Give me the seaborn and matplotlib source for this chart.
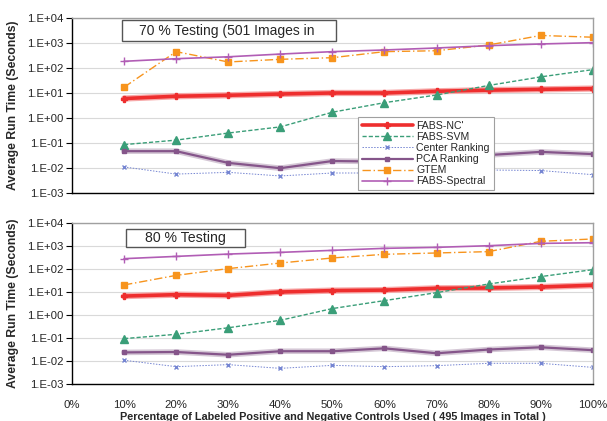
import numpy as np
import pandas as pd
import matplotlib
matplotlib.use("Agg")
import matplotlib.pyplot as plt
from matplotlib.patches import Rectangle
import seaborn as sns

pct = [10, 20, 30, 40, 50, 60, 70, 80, 90, 100]
series_names = ["FABS-NC'", "FABS-SVM", "Center Ranking", "PCA Ranking", "GTEM", "FABS-Spectral"]

# 70 % testing panel
top_nc = [6.0, 7.4, 8.1, 9.1, 10.0, 10.0, 11.7, 13.0, 14.0, 15.0]
top_svm = [0.086, 0.13, 0.25, 0.44, 1.7, 4.1, 8.3, 20, 44, 86]
top_center = [0.011, 0.0057, 0.0067, 0.0048, 0.0063, 0.0063, 0.0065, 0.0083, 0.0079, 0.0054]
top_pca = [0.047, 0.047, 0.016, 0.0098, 0.019, 0.018, 0.024, 0.033, 0.044, 0.036]
top_gtem = [17, 450, 174, 222, 258, 450, 490, 830, 2000, 1700]
top_spec = [185, 235, 280, 360, 450, 525, 630, 780, 910, 1030]

# 80 % testing panel
bot_nc = [6.6, 7.6, 7.1, 9.9, 11.4, 12.0, 14.3, 14.8, 16.3, 19.4]
bot_svm = [0.095, 0.146, 0.28, 0.59, 1.9, 4.2, 9.3, 22, 46, 92]
bot_center = [0.011, 0.0058, 0.0071, 0.0049, 0.0066, 0.0058, 0.0064, 0.0081, 0.0081, 0.0054]
bot_pca = [0.024, 0.025, 0.019, 0.027, 0.027, 0.036, 0.022, 0.032, 0.040, 0.030]
bot_gtem = [20, 52, 102, 178, 295, 425, 485, 555, 1550, 1960]
bot_spec = [275, 345, 435, 515, 630, 770, 850, 1000, 1260, 1350]

x_ticks = [0, 10, 20, 30, 40, 50, 60, 70, 80, 90, 100]
x_ticklabels = ["0%", "10%", "20%", "30%", "40%", "50%", "60%", "70%", "80%", "90%", "100%"]
y_ticks = [1e-3, 1e-2, 1e-1, 1e0, 1e1, 1e2, 1e3, 1e4]
y_ticklabels = ["1.E-03", "1.E-02", "1.E-01", "1.E+00", "1.E+01", "1.E+02", "1.E+03", "1.E+04"]

styles = {
    "FABS-NC'": dict(color="#EE2E2E", lw=2.6, ls="-", marker="P", ms=4.5, halo="#F7A8A8", hw=4.5),
    "FABS-SVM": dict(color="#3A9E78", lw=1.0, ls=(0, (3, 1.5)), marker="^", ms=6, halo=None, hw=0),
    "Center Ranking": dict(color="#7585D2", lw=0.7, ls=(0, (1.5, 1.5)), marker="x", ms=3, halo=None, hw=0),
    "PCA Ranking": dict(color="#85558A", lw=1.6, ls="-", marker="s", ms=2.5, halo="#D5C8D6", hw=4.0),
    "GTEM": dict(color="#F7941D", lw=1.0, ls=(0, (6, 2, 1, 2)), marker="s", ms=4, halo=None, hw=0),
    "FABS-Spectral": dict(color="#B15DB5", lw=1.2, ls="-", marker="+", ms=6, halo=None, hw=0),
}

sns.set_theme(style="white")
plt.rcParams["font.family"] = ["Liberation Sans", "DejaVu Sans"]

fig = plt.figure(figsize=(6.07, 4.21), dpi=100)
ax_top = fig.add_axes([0.1186, 0.5416, 0.858, 0.4157])
ax_bot = fig.add_axes([0.1186, 0.0872, 0.858, 0.384])

def draw(ax, data):
    for name in series_names:
        df = pd.DataFrame({"pct": pct, "val": data[name]})
        st = styles[name]
        if st["halo"]:
            sns.lineplot(data=df, x="pct", y="val", ax=ax, color=st["halo"], lw=st["hw"],
                         legend=False)
    for name in series_names:
        df = pd.DataFrame({"pct": pct, "val": data[name]})
        st = styles[name]
        sns.lineplot(data=df, x="pct", y="val", ax=ax, color=st["color"], lw=st["lw"],
                     linestyle=st["ls"], marker=st["marker"], markersize=st["ms"],
                     markeredgecolor=st["color"], markeredgewidth=1.0, label=name,
                     legend=False)
    ax.set_yscale("log")
    ax.set_ylim(1e-3, 1e4)
    ax.set_xlim(0, 100)
    ax.set_yticks(y_ticks)
    ax.set_yticklabels(y_ticklabels, fontsize=8.2)
    ax.minorticks_off()
    ax.yaxis.grid(True, color="#D9D9D9", lw=0.8)
    ax.set_axisbelow(True)
    ax.set_ylabel("Average Run Time (Seconds)", fontsize=8.8, fontweight="bold", labelpad=6)
    ax.set_xlabel("")
    for s in ["top", "right"]:
        ax.spines[s].set_color("#A0A0A0")
        ax.spines[s].set_linewidth(1.0)
    for s in ["left", "bottom"]:
        ax.spines[s].set_color("black")
        ax.spines[s].set_linewidth(1.0)
    ax.tick_params(axis="y", left=True, length=4, width=0.8, color="black", pad=2)

top_data = dict(zip(series_names, [top_nc, top_svm, top_center, top_pca, top_gtem, top_spec]))
bot_data = dict(zip(series_names, [bot_nc, bot_svm, bot_center, bot_pca, bot_gtem, bot_spec]))
draw(ax_top, top_data)
draw(ax_bot, bot_data)

ax_top.set_xticks(x_ticks)
ax_top.set_xticklabels([])
ax_top.tick_params(axis="x", bottom=False)
ax_bot.set_xticks(x_ticks)
ax_bot.set_xticklabels(x_ticklabels, fontsize=8.2)
ax_bot.tick_params(axis="x", bottom=False, pad=5)
ax_bot.set_xlabel("Percentage of Labeled Positive and Negative Controls Used ( 495 Images in Total )",
                  fontsize=7.8, fontweight="bold", labelpad=1.5)

# title boxes
ax_top.add_patch(Rectangle((0.096, 0.869), 0.411, 0.12, transform=ax_top.transAxes,
                           fc="white", ec="#555555", lw=1.0, zorder=5))
ax_top.text(0.298, 0.926, "70 % Testing (501 Images in", transform=ax_top.transAxes,
            fontsize=10, va="center", ha="center", zorder=6)
ax_bot.add_patch(Rectangle((0.104, 0.850), 0.228, 0.111, transform=ax_bot.transAxes,
                           fc="white", ec="#555555", lw=1.0, zorder=5))
ax_bot.text(0.218, 0.902, "80 % Testing", transform=ax_bot.transAxes,
            fontsize=10.2, va="center", ha="center", zorder=6)

leg = ax_top.legend(loc="lower left", bbox_to_anchor=(0.549, 0.017), fontsize=7.6,
                    frameon=True, fancybox=False, edgecolor="#A0A0A0", framealpha=1,
                    handlelength=4.9, handletextpad=0.3, borderpad=0.35, labelspacing=0.1,
                    borderaxespad=0)
leg.get_frame().set_linewidth(0.8)
leg.set_zorder(10)

fig.savefig("out.png", dpi=100)
